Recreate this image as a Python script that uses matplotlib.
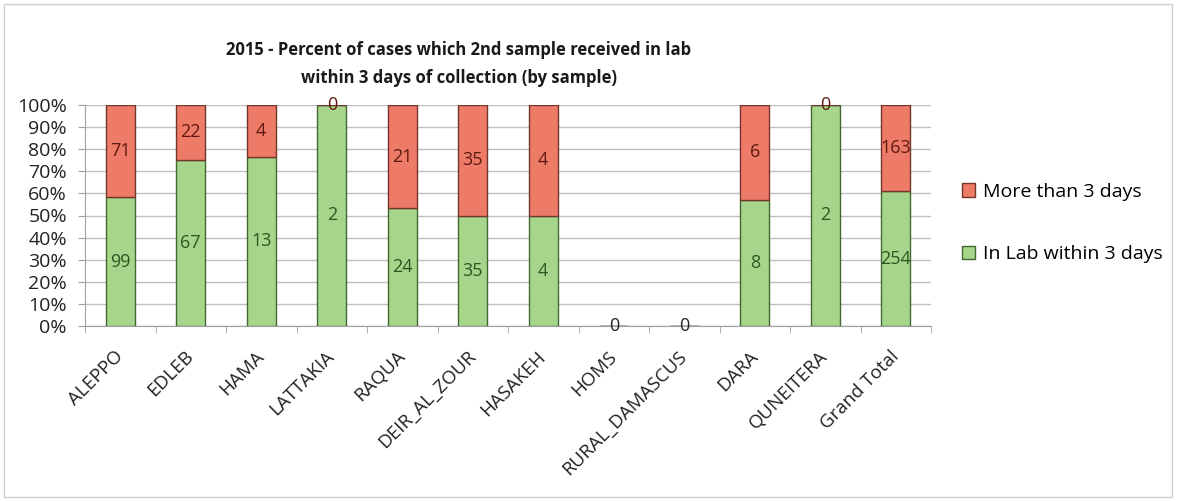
import numpy as np
from matplotlib import pyplot as plt
from matplotlib.patches import Rectangle

plt.rcParams['font.family'] = ['Open Sans', 'DejaVu Sans']

regions = ['ALEPPO', 'EDLEB', 'HAMA', 'LATTAKIA', 'RAQUA', 'DEIR_AL_ZOUR', 'HASAKEH',
           'HOMS', 'RURAL_DAMASCUS', 'DARA', 'QUNEITERA', 'Grand Total']
in_lab = [99, 67, 13, 2, 24, 35, 4, 0, 0, 8, 2, 254]
more_than_3 = [71, 22, 4, 0, 21, 35, 4, 0, 0, 6, 0, 163]

green, green_edge, green_text = '#A6D68C', '#44662F', '#2F5520'
red, red_edge, red_text = '#EE7A68', '#74352A', '#5E1A10'

W, H = 1177, 501
fig = plt.figure(figsize=(W / 100, H / 100), dpi=100)
fig.patches.append(Rectangle((4 / W, 4 / H), 1 - 9 / W, 1 - 8 / H, transform=fig.transFigure,
                             fill=False, edgecolor='#D0D0D0', linewidth=1.0))

ax = fig.add_axes([85 / W, 1 - 326 / H, (931 - 85) / W, (326 - 105) / H])

x = np.arange(len(regions))
a = np.array(in_lab, dtype=float)
b = np.array(more_than_3, dtype=float)
tot = a + b
safe = np.where(tot > 0, tot, 1)
pa = np.where(tot > 0, a / safe * 100, 0)
pb = np.where(tot > 0, b / safe * 100, 0)

bw = 0.41
ax.bar(x, pa, bw, color=green, edgecolor=green_edge, linewidth=1.0, label='In Lab within 3 days', zorder=3)
ax.bar(x, pb, bw, bottom=pa, color=red, edgecolor=red_edge, linewidth=1.0, label='More than 3 days', zorder=3)

fs = 13
for i in range(len(regions)):
    if tot[i] == 0:
        ax.text(x[i], 0, '0', ha='center', va='center', fontsize=fs, color='#222222', zorder=4)
        continue
    ax.text(x[i], pa[i] / 2, str(in_lab[i]), ha='center', va='center', fontsize=fs, color=green_text, zorder=4)
    ax.text(x[i], pa[i] + pb[i] / 2, str(more_than_3[i]), ha='center', va='center', fontsize=fs,
            color=red_text, zorder=4)

ax.set_xlim(-0.5, len(regions) - 0.5)
ax.set_ylim(0, 100)
ax.set_yticks(np.arange(0, 101, 10))
ax.set_yticklabels([f'{v}%' for v in range(0, 101, 10)], fontsize=14, color='#222222')
ax.yaxis.grid(True, color='#BFBFBF', linewidth=1.0, zorder=0)
ax.tick_params(axis='y', length=5, color='#A0A0A0', pad=8)

ax.set_xticks(x)
ax.set_xticklabels(regions, rotation=45, ha='right', va='center', rotation_mode='anchor',
                   fontsize=13.5, color='#222222')
ax.tick_params(axis='x', length=0, pad=20)
ax.set_xticks(np.arange(-0.5, len(regions), 1), minor=True)
ax.tick_params(axis='x', which='minor', length=5, color='#A0A0A0')

for s in ['top', 'right']:
    ax.spines[s].set_visible(False)
ax.spines['left'].set_color('#A0A0A0')
ax.spines['bottom'].set_color('#A0A0A0')

fig.text(459 / W, 1 - 64 / H,
         '2015 - Percent of cases which 2nd sample received in lab\nwithin 3 days of collection (by sample)',
         ha='center', va='center', fontsize=12, fontweight='bold', color='#1A1A1A', linespacing=1.7)

h, l = ax.get_legend_handles_labels()
fig.legend(h[::-1], l[::-1], loc='center left', bbox_to_anchor=(944 / W, 1 - 223 / H), frameon=False,
           fontsize=14, handlelength=0.7, handleheight=0.7, labelspacing=2.3, handletextpad=0.4)

fig.savefig('out.png', dpi=100)
